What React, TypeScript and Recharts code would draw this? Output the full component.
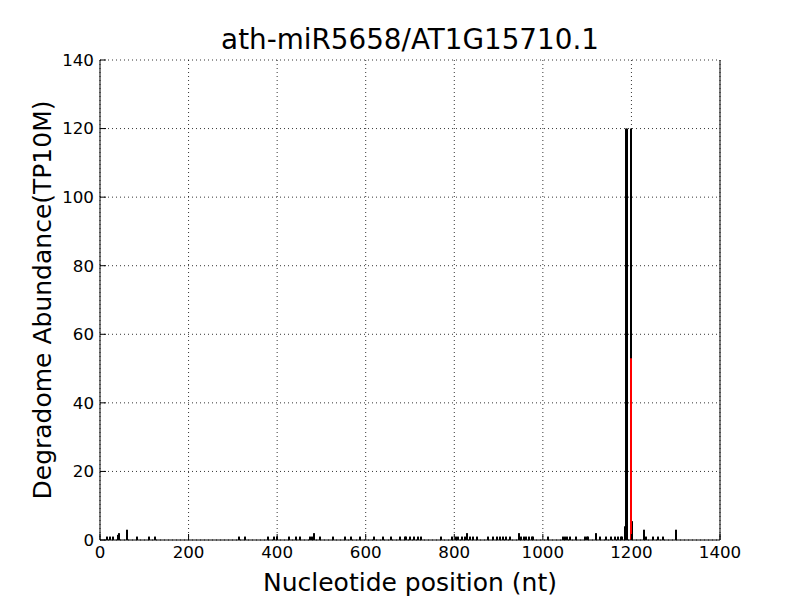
import React from "react";
import { ComposedChart, Bar, XAxis, YAxis, CartesianGrid, Label } from "recharts";

// degradome read positions (nt) and abundance (TP10M)
const positions = [
  17, 23, 30, 40, 42, 44, 61, 84, 110, 125,
  314, 327, 379, 393, 400, 427, 443, 452,
  474, 478, 483, 497, 527, 553, 568, 587, 618, 639, 658, 677,
  689, 692, 700, 709, 719, 725, 771, 796, 804, 809, 817, 824, 829, 835, 843, 852,
  877, 888, 896, 903, 910, 918, 926, 946, 952, 957, 963, 969, 975, 978,
  1012, 1046, 1050, 1054, 1061, 1076, 1095, 1099, 1102, 1121, 1129, 1144,
  1155, 1163, 1170, 1176, 1180, 1185, 1188, 1190, 1199, 1201,
  1228, 1234, 1249, 1260, 1272, 1302,
];
const abundance = [
  1, 1, 1, 1, 1.5, 2, 3, 1, 1, 1,
  1, 1, 1, 1, 1, 1, 1, 1,
  1, 1, 2, 1, 1, 1, 1, 1, 1, 1, 1, 1,
  1, 1, 1, 1, 1, 1, 1, 1, 1, 1, 1, 1, 2, 1, 1, 1,
  1, 1, 1, 1, 1, 1, 1, 2, 1, 1, 1, 1, 1, 1,
  1, 1, 1, 1, 1, 1, 1, 1, 1, 2, 1, 1,
  1, 1, 1, 1, 1, 4, 120, 120, 120, 5.5,
  3, 1, 1, 1, 1, 3,
];

// predicted cleavage site
const targetSite = 1199;
const targetAbundance = 53;

const xTicks = [0, 200, 400, 600, 800, 1000, 1200, 1400];
const yTicks = [0, 20, 40, 60, 80, 100, 120, 140];

const data = positions.map((pos, i) => ({
  pos,
  abundance: abundance[i],
  target: pos === targetSite ? targetAbundance : null,
}));

const font = "DejaVu Sans";
const tickStyle = { fill: "#000", fontSize: 16.7, fontFamily: font };

// matplotlib-like vline: fixed pixel width, centred on the bar's x
const vline = (color: string, w: number) => (props: any) => {
  const { x, y, width, height } = props;
  if (height == null || height <= 0) return <g />;
  const cx = Math.round(x + width / 2);
  return <rect x={cx - w / 2} y={y} width={w} height={height} fill={color} />;
};

export default function App() {
  return (
    <div style={{ position: "absolute", left: 0, top: 0, width: 800, height: 600, background: "#fff" }}>
      <div
        style={{
          position: "absolute",
          left: 0,
          width: 820,
          top: 24,
          textAlign: "center",
          fontFamily: font,
          fontSize: 27.8,
          lineHeight: "32px",
          color: "#000",
        }}
      >
        ath-miR5658/AT1G15710.1
      </div>
      <ComposedChart
        width={800}
        height={600}
        data={data}
        margin={{ top: 60, right: 0, bottom: 0, left: 0 }}
      >
        <CartesianGrid stroke="#000" strokeWidth={0.8} strokeDasharray="1 3" />
        <XAxis
          dataKey="pos"
          type="number"
          domain={[0, 1400]}
          ticks={xTicks}
          height={60}
          tickSize={-6}
          tickMargin={12}
          tick={tickStyle}
          stroke="#000"
          allowDataOverflow
        >
          <Label
            value="Nucleotide position (nt)"
            position="insideBottom"
            offset={9}
            style={{ fill: "#000", fontSize: 25, fontFamily: font }}
          />
        </XAxis>
        <XAxis
          xAxisId="top"
          orientation="top"
          type="number"
          domain={[0, 1400]}
          ticks={xTicks}
          height={0}
          tickSize={-6}
          tick={false}
          stroke="#000"
        />
        <YAxis
          type="number"
          domain={[0, 140]}
          ticks={yTicks}
          width={100}
          tickSize={-6}
          tickMargin={12}
          tick={tickStyle}
          stroke="#000"
          allowDataOverflow
        >
          <Label
            value="Degradome Abundance(TP10M)"
            angle={-90}
            position="insideLeft"
            offset={42}
            style={{ fill: "#000", fontSize: 25, fontFamily: font, textAnchor: "middle" }}
          />
        </YAxis>
        <YAxis
          yAxisId="right"
          orientation="right"
          type="number"
          domain={[0, 140]}
          ticks={yTicks}
          width={80}
          tickSize={-6}
          tick={false}
          stroke="#000"
        />
        <Bar dataKey="abundance" shape={vline("#000", 2)} isAnimationActive={false} />
        <Bar dataKey="target" shape={vline("#ff0000", 2)} isAnimationActive={false} />
      </ComposedChart>
    </div>
  );
}
